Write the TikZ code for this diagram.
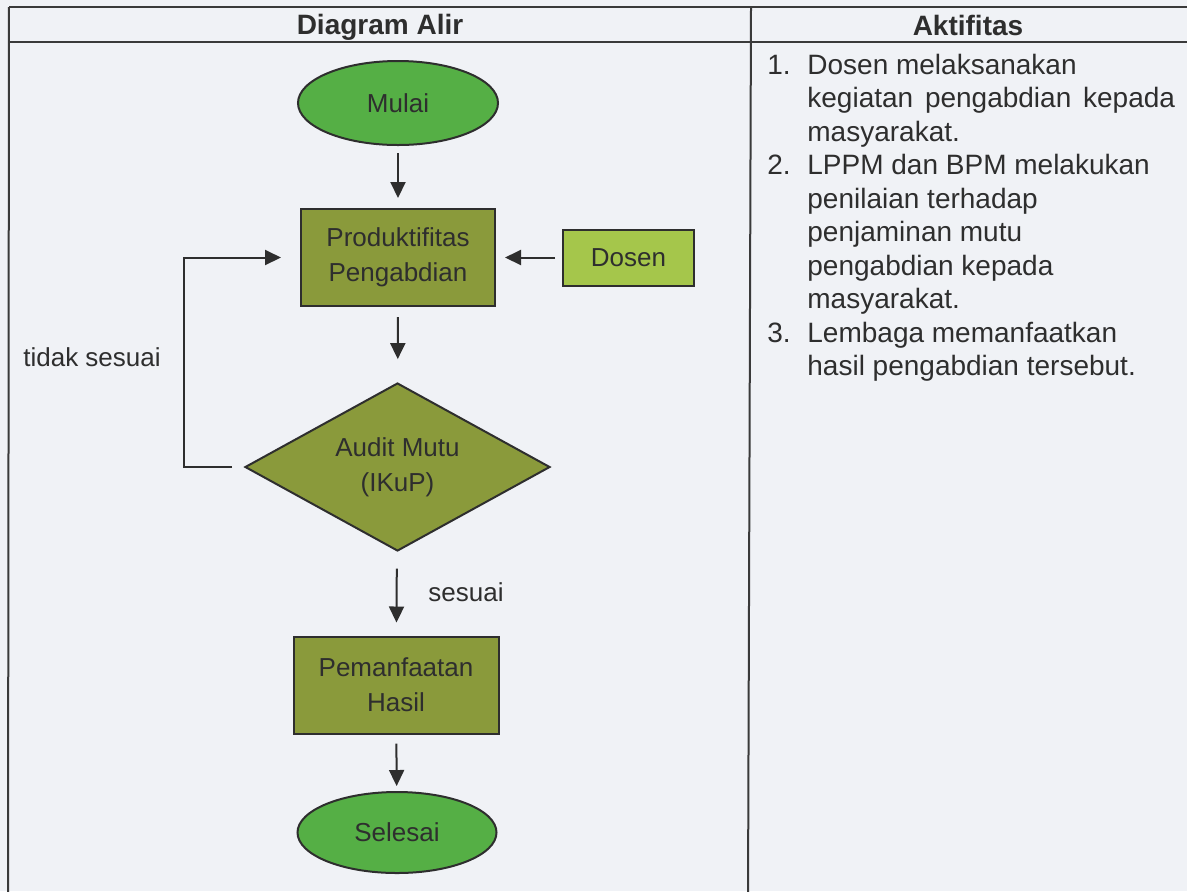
\documentclass[tikz,border=0pt]{standalone}
\usepackage{fontspec}
\setmainfont{Liberation Sans}
\usetikzlibrary{shapes.geometric,arrows.meta}
\definecolor{bgc}{HTML}{F0F2F6}
\definecolor{startc}{HTML}{55AF45}
\definecolor{olivec}{HTML}{8A9A3B}
\definecolor{dosenc}{HTML}{A5C64B}
\definecolor{inkc}{HTML}{2E2E2E}
\definecolor{linec}{HTML}{3A3A3A}
\tikzset{
  tline/.style={draw=linec, line width=1pt},
  shapeline/.style={draw=inkc, line width=1pt, inner sep=0pt, text=inkc, align=center, font=\fontsize{13}{17.5}\selectfont},
  terminal/.style={shapeline, ellipse, fill=startc, minimum width=100pt, minimum height=42pt},
  process/.style={shapeline, rectangle, fill=olivec, minimum width=97pt, minimum height=48.5pt},
  sidebox/.style={shapeline, rectangle, fill=dosenc, minimum width=65.5pt, minimum height=28pt},
  decision/.style={shapeline, diamond, aspect=1.8, fill=olivec, minimum width=152.5pt, minimum height=84pt},
  arr/.style={draw=inkc, line width=1pt, -{Triangle[width=7.5pt,length=8pt]}},
  lbl/.style={text=inkc, font=\fontsize{13}{16}\selectfont, inner sep=0pt},
  head/.style={text=inkc, font=\fontsize{14}{16}\selectfont\bfseries, inner sep=0pt, anchor=base},
  item/.style={text=inkc, font=\fontsize{14}{16}\selectfont, inner sep=0pt, anchor=base west}
}
\begin{document}
\begin{tikzpicture}[x=0.5pt, y=-0.5pt]
\useasboundingbox (0,0) rectangle (1187,891);
\fill[bgc] (0,0) rectangle (1187,891);
% table
\draw[tline] (9,7) -- (1195,7);
\draw[tline] (9,42) -- (1195,42);
\draw[tline] (9,7) -- (8,900);
\draw[tline] (751,7) -- (748,900);
\node[head] (h1) at (380,34) {Diagram Alir};
\node[head] (h2) at (968,35) {Aktifitas};
% flow nodes
\node[terminal] (mulai) at (398,103) {Mulai};
\node[process] (prod) at (398,257.5) {Produktifitas\\Pengabdian};
\node[sidebox] (dosen) at (628.5,257.5) {Dosen};
\node[decision] (audit) at (397.5,467) {Audit Mutu\\(IKuP)};
\node[process, minimum width=102.5pt] (pem) at (396,685) {Pemanfaatan\\Hasil};
\node[terminal, minimum width=99.5pt, minimum height=40.5pt] (selesai) at (397,832.5) {Selesai};
\coordinate (lx) at (184,467);
% connectors
\draw[arr, shorten <=3.5pt, shorten >=5pt] (mulai) -- (prod);
\draw[arr, shorten <=3.5pt, shorten >=4.5pt] (dosen) -- (prod);
\draw[arr, shorten <=5pt, shorten >=11.5pt] (prod) -- (audit);
\draw[arr, shorten <=8.5pt, shorten >=6.5pt] (audit) -- (pem);
\draw[arr, shorten <=4.5pt, shorten >=2.5pt] (pem) -- (selesai);
\draw[arr, shorten <=6pt, shorten >=9.5pt] (audit.west) -- (audit.west -| lx) -- (prod.west -| lx) -- (prod.west);
\node[lbl] (tidak) at (92,357) {tidak sesuai};
\node[lbl] (sesuai) at (466,592) {sesuai};
% activities
\node[item] (n1) at (767,74) {1.};
\node[item] (a1) at (807,74) {Dosen melaksanakan};
\node[item] (a2) at (807,107.5) {kegiatan \hspace{2pt}pengabdian \hspace{2pt}kepada};
\node[item] (a3) at (807,141) {masyarakat.};
\node[item] (n2) at (767,174.5) {2.};
\node[item] (b1) at (807,174.5) {LPPM dan BPM melakukan};
\node[item] (b2) at (807,208) {penilaian terhadap};
\node[item] (b3) at (807,241.5) {penjaminan mutu};
\node[item] (b4) at (807,275) {pengabdian kepada};
\node[item] (b5) at (807,308.5) {masyarakat.};
\node[item] (n3) at (767,342) {3.};
\node[item] (c1) at (807,342) {Lembaga memanfaatkan};
\node[item] (c2) at (807,375.5) {hasil pengabdian tersebut.};
\end{tikzpicture}
\end{document}
